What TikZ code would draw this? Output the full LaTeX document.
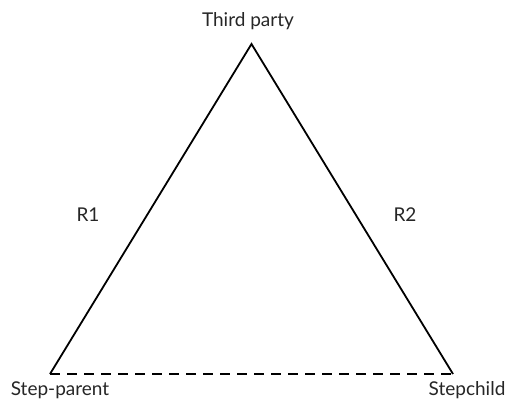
\documentclass[tikz,border=0pt]{standalone}
\usepackage{fontspec}
\setmainfont{Lato}
\usetikzlibrary{positioning}

\begin{document}
\begin{tikzpicture}[
    x=1pt, y=-1pt,
    side/.style={line width=1.8pt, line join=miter},
    tie/.style={line width=1.8pt, dash pattern=on 10pt off 7pt},
    lbl/.style={font=\fontsize{19}{22}\selectfont, text=black!85, inner sep=0pt}
  ]
  \useasboundingbox (0,0) rectangle (506,409);

  % Vertices
  \coordinate (party) at (251.5, 44);
  \coordinate (parent) at (50, 374);
  \coordinate (child) at (453, 374);

  % Relations
  \draw[side] (parent) -- (party) -- (child);
  \draw[tie] (parent) -- (child);

  % Labels
  \node[lbl, anchor=base] (partylbl) at (248, 27) {Third party};
  \node[lbl, anchor=base] (parentlbl) at (60, 395) {Step-parent};
  \node[lbl, anchor=base] (childlbl) at (467, 395) {Stepchild};
  \node[lbl] (rone) at (88, 215) {R1};
  \node[lbl] (rtwo) at (405, 215) {R2};

\end{tikzpicture}
\end{document}
